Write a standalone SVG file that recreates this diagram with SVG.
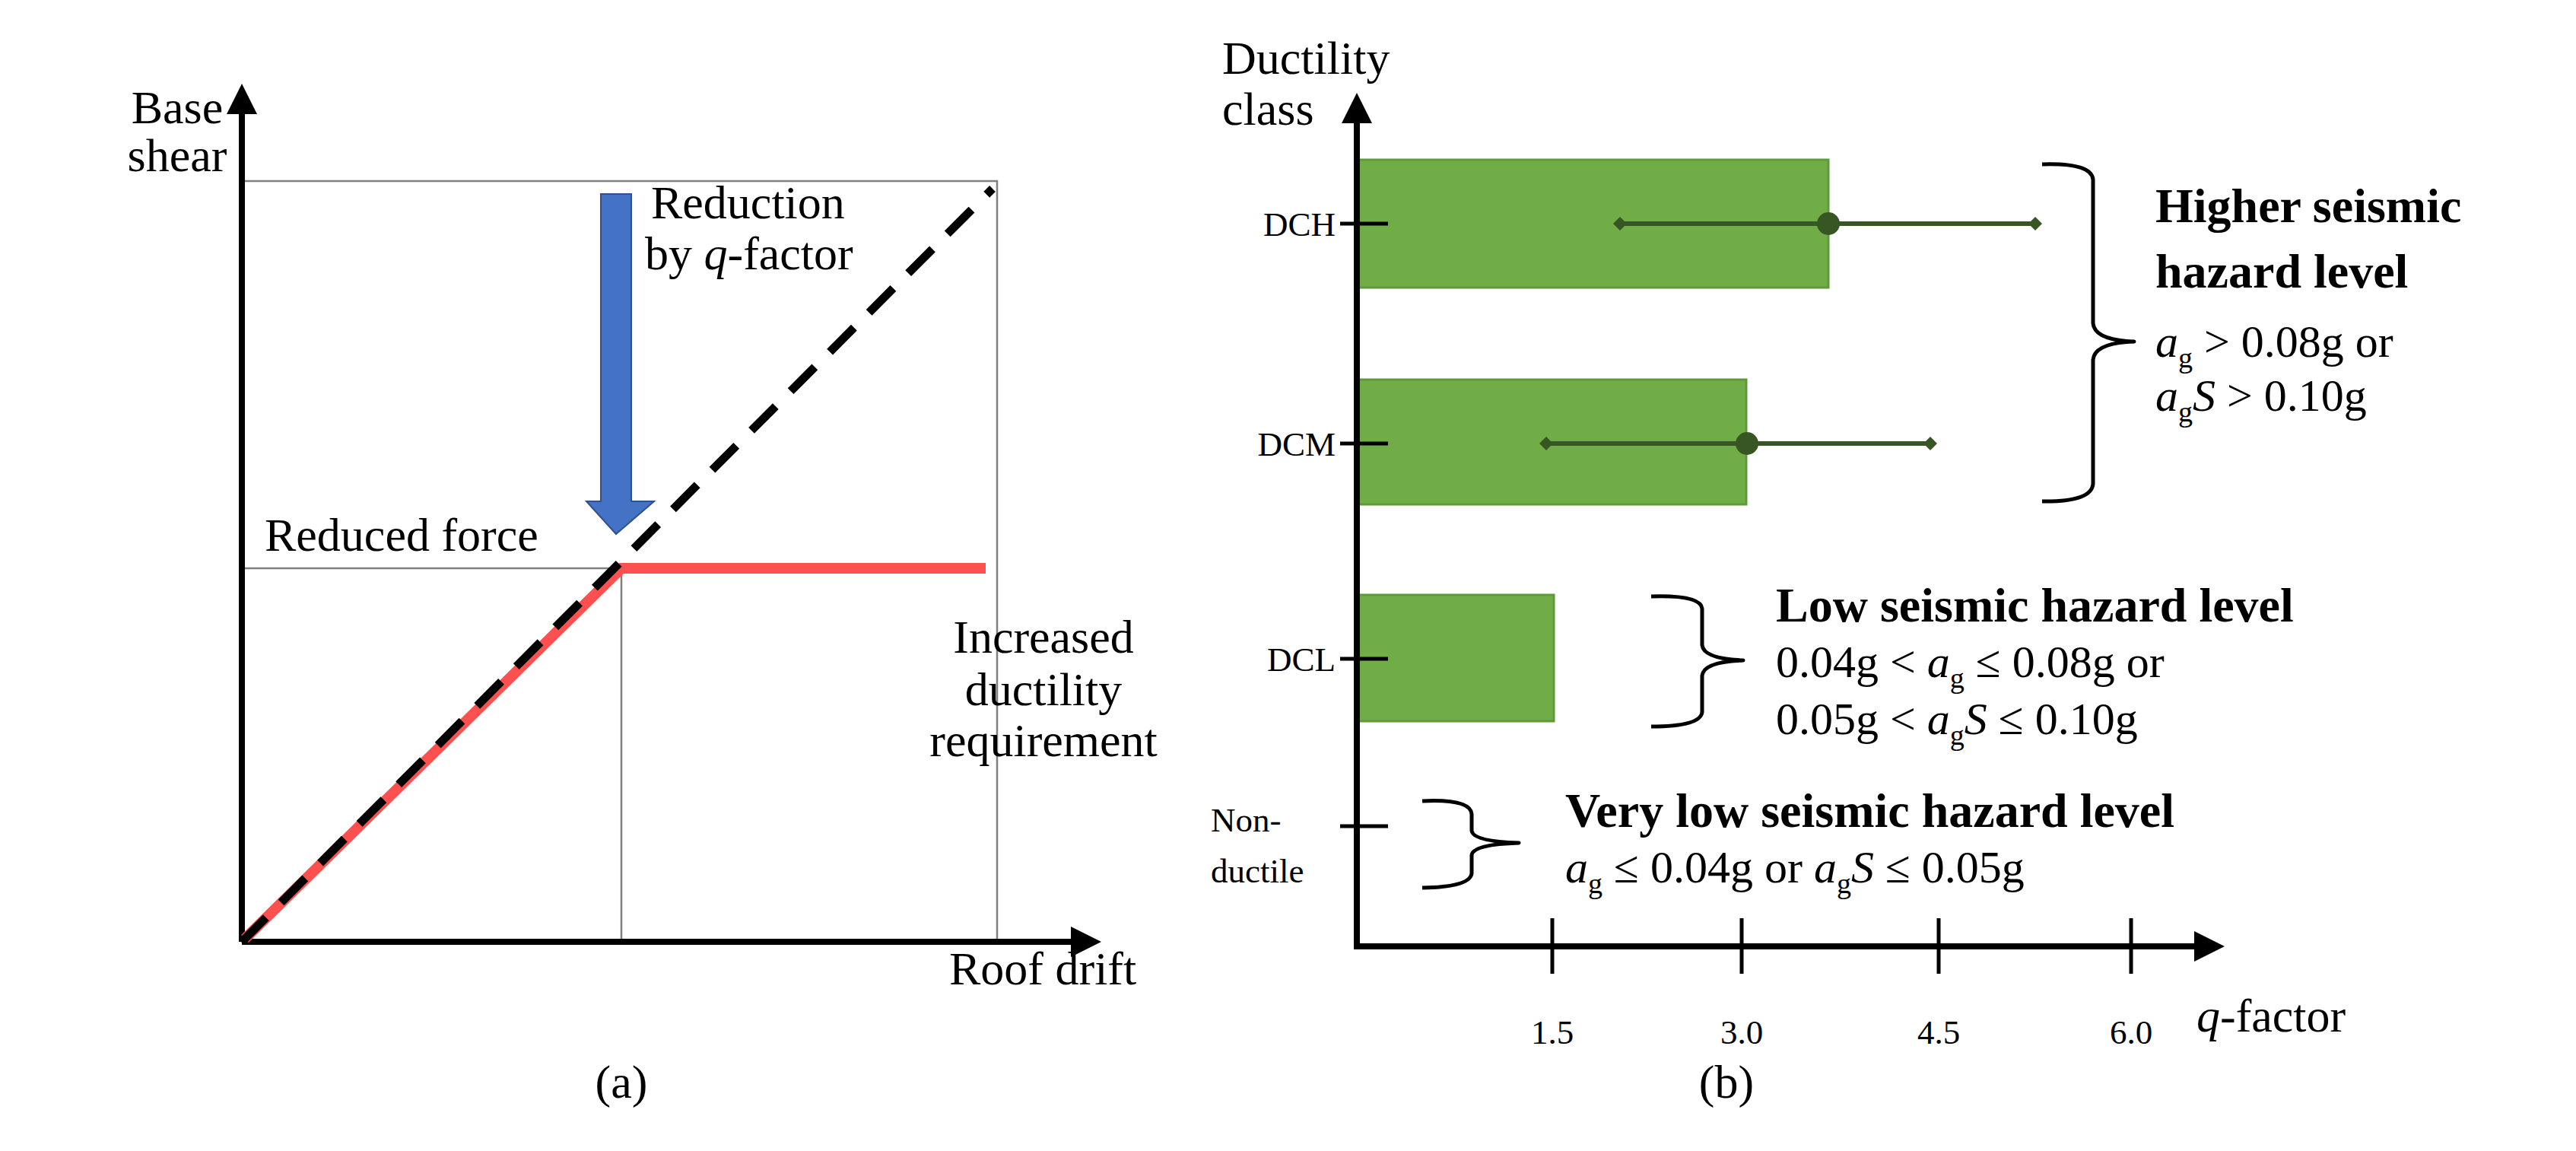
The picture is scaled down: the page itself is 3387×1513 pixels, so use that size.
<svg xmlns="http://www.w3.org/2000/svg" width="3387" height="1513" viewBox="0 0 3387 1513">
<style>
text{font-family:"Liberation Serif","Times New Roman",serif;fill:#000}
.t{font-size:62px}
.s{font-size:45px}
.b{font-size:64px;font-weight:bold}
.m{font-size:60px}
.i{font-style:italic}
.sub{font-size:38px}
.ax{stroke:#000;stroke-width:8;fill:none}
.thin{stroke:#808080;stroke-width:2.5;fill:none}
.bar{fill:#70AD47;stroke:#5E9A3A;stroke-width:3}
.eb{stroke:#375623;stroke-width:6;fill:none}
.br{stroke:#000;stroke-width:5;fill:none;stroke-linejoin:round}
</style>
<defs>
<marker id="ah" viewBox="0 0 10 10" refX="8" refY="5" markerWidth="5" markerHeight="5" orient="auto" markerUnits="strokeWidth"><path d="M0,0 L10,5 L0,10 z" fill="#000"/></marker>
<marker id="dm" viewBox="0 0 10 10" refX="5" refY="5" markerWidth="3" markerHeight="3" orient="auto" markerUnits="strokeWidth"><path d="M0,5 L5,0 L10,5 L5,10 z" fill="#375623"/></marker>
</defs>
<rect width="3387" height="1513" fill="#fff"/>

<g id="panel-a">
<g id="grid-a">
<rect x="318" y="238" width="993" height="1000" class="thin"/>
<line x1="318" y1="747" x2="817" y2="747" class="thin"/>
<line x1="817" y1="747" x2="817" y2="1238" class="thin"/>
</g>
<g id="connectors-a">
<line x1="318" y1="1238" x2="318" y2="118" class="ax" marker-end="url(#ah)"/>
<line x1="318" y1="1238" x2="1440" y2="1238" class="ax" marker-end="url(#ah)"/>
<polyline points="322,1234 817,747 1296,747" stroke="#FF5050" stroke-width="14" fill="none"/>
<line x1="318" y1="1238" x2="1305" y2="248" stroke="#000" stroke-width="11" stroke-dasharray="45,28"/>
<path d="M790,255 H830 V659 H860 L810,702 L771,659 H790 Z" fill="#4472C4" stroke="#2F528F" stroke-width="2"/>
</g>
<text class="t" x="233" y="162" text-anchor="middle">Base</text>
<text class="t" x="233" y="225" text-anchor="middle">shear</text>
<text class="t" x="856" y="287">Reduction</text>
<text class="t" x="848" y="354">by <tspan class="i">q</tspan>-factor</text>
<text class="t" x="348" y="724">Reduced force</text>
<text class="t" x="1372" y="858" text-anchor="middle">Increased</text>
<text class="t" x="1372" y="927" text-anchor="middle">ductility</text>
<text class="t" x="1372" y="994" text-anchor="middle">requirement</text>
<text class="t" x="1248" y="1294">Roof drift</text>
<text class="t" x="817" y="1443" text-anchor="middle">(a)</text>
</g>

<g id="panel-b">
<g id="bars">
<rect id="bar-dch" x="1784" y="210" width="620" height="168" class="bar"/>
<rect id="bar-dcm" x="1784" y="499" width="512" height="164" class="bar"/>
<rect id="bar-dcl" x="1784" y="782" width="259" height="166" class="bar"/>
</g>
<g id="connectors-b">
<line x1="1784" y1="1244" x2="1784" y2="130" class="ax" marker-end="url(#ah)"/>
<line x1="1780" y1="1244" x2="2917" y2="1244" class="ax" marker-end="url(#ah)"/>
<g stroke="#000" stroke-width="5">
<line x1="2041" y1="1207" x2="2041" y2="1280"/>
<line x1="2290" y1="1207" x2="2290" y2="1280"/>
<line x1="2549" y1="1207" x2="2549" y2="1280"/>
<line x1="2802" y1="1207" x2="2802" y2="1280"/>
<line x1="1762" y1="294" x2="1825" y2="294"/>
<line x1="1762" y1="583" x2="1825" y2="583"/>
<line x1="1762" y1="866" x2="1825" y2="866"/>
<line x1="1762" y1="1086" x2="1825" y2="1086"/>
</g>
<line x1="2130" y1="294" x2="2676" y2="294" class="eb" marker-start="url(#dm)" marker-end="url(#dm)"/>
<circle cx="2404" cy="294" r="15" fill="#375623"/>
<line x1="2033" y1="583" x2="2538" y2="583" class="eb" marker-start="url(#dm)" marker-end="url(#dm)"/>
<circle cx="2297" cy="583" r="15" fill="#375623"/>
<path class="br" d="M2685,216 Q2750,214 2752,236 V425 Q2754,447 2806,449 Q2754,451 2752,473 V636 Q2750,660 2685,659"/>
<path class="br" d="M2171,784 Q2236,782 2238,800 V848 Q2240,866 2292,868 Q2240,870 2238,888 V936 Q2236,955 2171,955"/>
<path class="br" d="M1870,1053 Q1933,1050 1935,1070 V1092 Q1937,1106 1997,1108 Q1937,1110 1935,1124 V1148 Q1933,1166 1870,1167"/>
</g>
<text class="t" x="1607" y="97">Ductility</text>
<text class="t" x="1607" y="164">class</text>
<text class="s" x="1756" y="310" text-anchor="end">DCH</text>
<text class="s" x="1756" y="599" text-anchor="end">DCM</text>
<text class="s" x="1756" y="882" text-anchor="end">DCL</text>
<text class="s" x="1592" y="1093">Non-</text>
<text class="s" x="1592" y="1160">ductile</text>
<text class="s" x="2041" y="1372" text-anchor="middle">1.5</text>
<text class="s" x="2290" y="1372" text-anchor="middle">3.0</text>
<text class="s" x="2549" y="1372" text-anchor="middle">4.5</text>
<text class="s" x="2802" y="1372" text-anchor="middle">6.0</text>
<text class="t" x="2888" y="1356"><tspan class="i">q</tspan>-factor</text>
<text class="t" x="2270" y="1443" text-anchor="middle">(b)</text>
<text class="b" x="2834" y="292">Higher seismic</text>
<text class="b" x="2834" y="378">hazard level</text>
<text class="m" x="2834" y="469"><tspan class="i">a</tspan><tspan class="sub" dy="14">g</tspan><tspan dy="-14"> &gt; 0.08g or</tspan></text>
<text class="m" x="2834" y="540"><tspan class="i">a</tspan><tspan class="sub" dy="14">g</tspan><tspan class="i" dy="-14">S</tspan> &gt; 0.10g</text>
<text class="b" x="2335" y="817">Low seismic hazard level</text>
<text class="m" x="2335" y="890">0.04g &lt; <tspan class="i">a</tspan><tspan class="sub" dy="14">g</tspan><tspan dy="-14"> ≤ 0.08g or</tspan></text>
<text class="m" x="2335" y="965">0.05g &lt; <tspan class="i">a</tspan><tspan class="sub" dy="14">g</tspan><tspan class="i" dy="-14">S</tspan> ≤ 0.10g</text>
<text class="b" x="2058" y="1087">Very low seismic hazard level</text>
<text class="m" x="2058" y="1160"><tspan class="i">a</tspan><tspan class="sub" dy="14">g</tspan><tspan dy="-14"> ≤ 0.04g or </tspan><tspan class="i">a</tspan><tspan class="sub" dy="14">g</tspan><tspan class="i" dy="-14">S</tspan> ≤ 0.05g</text>
</g>
</svg>
